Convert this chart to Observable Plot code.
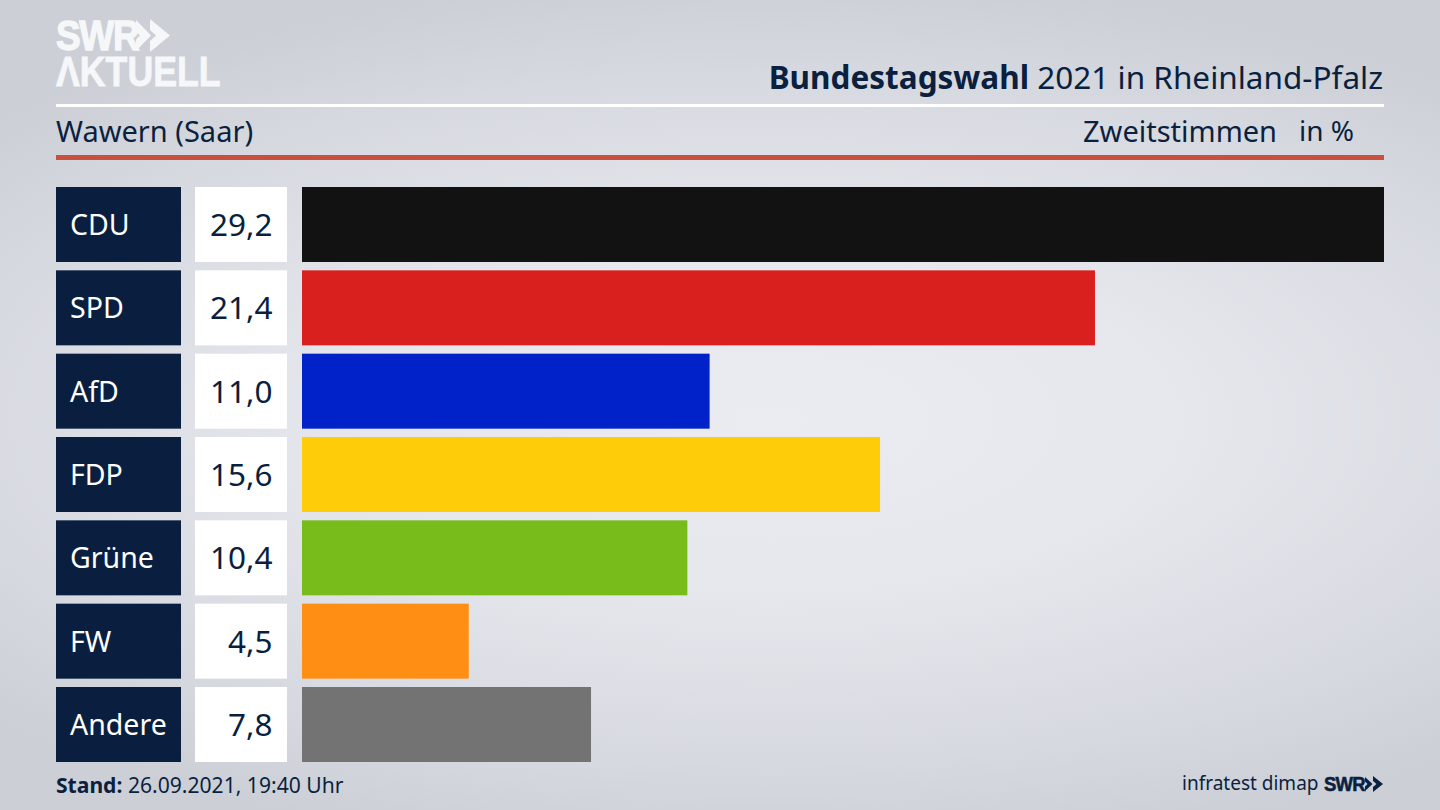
<!DOCTYPE html>
<html lang="de"><head><meta charset="utf-8">
<script src="https://cdn.jsdelivr.net/npm/d3@7"></script>
<script src="https://cdn.jsdelivr.net/npm/@observablehq/plot@0.6"></script>
<style>
html,body{margin:0;padding:0;width:1440px;height:810px;overflow:hidden}
body{position:relative;font-family:"Noto Sans",sans-serif;color:#0b1f3f;
background:radial-gradient(ellipse 1050px 440px at 770px 420px,#ebecf1 0%,#e5e7ed 40%,#d6d9df 78%,#ccd0d6 100%),#ccd0d6;}
.t{position:absolute;white-space:nowrap;line-height:1}
.panel{position:absolute;top:187.200px}
.panel svg{display:block;background:transparent!important;overflow:visible}
.rule{position:absolute;left:56px;width:1328px}
.logo{font-family:'Liberation Sans',sans-serif;font-weight:700;transform-origin:left top;line-height:.8}
</style></head><body>
<div class="t logo" style="left:56px;top:19.200px;font-size:42px;color:#f6f7f9;-webkit-text-stroke:1.300px #f6f7f9;letter-spacing:-1.500px;transform:scaleX(.88)">SWR</div>
<svg style="position:absolute;left:135px;top:19px" width="36" height="33" viewBox="0 0 36 33"><path fill="#f6f7f9" d="M1 1L16 16.500L1 32V20.500L5 16.500L1 12.500ZM15 0L35 16.500L15 33V22L21 16.500L15 11Z"/></svg>
<div class="t logo" style="left:56px;top:55.200px;font-size:42px;color:#f6f7f9;-webkit-text-stroke:.8px #f6f7f9;transform:scaleX(.85)">ΛKTUELL</div>
<div class="t" id="title" style="right:57px;top:61px;font-size:31.500px"><b style="font-weight:700">Bundestagswahl</b> 2021 in Rheinland-Pfalz</div>
<div class="rule" style="top:104px;height:3px;background:#fff"></div>
<div class="t" style="left:56px;top:116px;font-size:29px">Wawern (Saar)</div>
<div class="t" style="left:1083px;top:116px;font-size:29px">Zweitstimmen</div>
<div class="t" style="left:1299px;top:116px;font-size:28px">in %</div>
<div class="rule" style="top:155px;height:5px;background:#c9503e"></div>
<div class="panel" id="labels" style="left:56px"></div>
<div class="panel" id="values" style="left:195px"></div>
<div class="panel" id="bars" style="left:301.500px"></div>
<div class="t" style="left:56px;top:774px;font-size:21.100px"><b>Stand:</b> 26.09.2021, 19:40 Uhr</div>
<div class="t" style="left:1182px;top:774px;font-size:19px">infratest dimap</div>
<div class="t logo" style="left:1324px;top:776px;font-size:21px;-webkit-text-stroke:.6px #0b1f3f;letter-spacing:-.8px;transform:scaleX(.88)">SWR</div>
<svg style="position:absolute;left:1365px;top:776px" width="19" height="16" viewBox="0 0 19 16"><path fill="#0b1f3f" d="M0 1L7.500 8L0 15V10.500L2.500 8L0 5.500ZM8 0L18 8L8 16V11L11.500 8L8 5Z"/></svg>
<script>
const parties=["CDU","SPD","AfD","FDP","Grüne","FW","Andere"];
const shares=[29.2,21.4,11.0,15.6,10.4,4.5,7.8];
const shareLabels=["29,2","21,4","11,0","15,6","10,4","4,5","7,8"];
const colours=["#121212","#d9201e","#0022c8","#ffcc0a","#78bc1b","#ff8f14","#737374"];
const rows=parties.map((party,i)=>({party,share:shares[i],label:shareLabels[i],colour:colours[i]}));
const navy="#0a1f40", H=575;
const base=(width,domain,marks)=>Plot.plot({width,height:H,margin:0,
  style:{background:"transparent",fontFamily:"'Noto Sans',sans-serif"},
  x:{domain,axis:null},
  y:{domain:parties,axis:null,paddingInner:0.1,paddingOuter:0,align:0,round:false},
  marks});
document.getElementById("labels").append(base(125,[0,1],[
  Plot.barX(rows,{x:()=>1,y:"party",fill:navy}),
  Plot.text(rows,{y:"party",text:"party",frameAnchor:"left",dx:13.5,dy:1,fill:"#fff",fontSize:28.5})
]));
document.getElementById("values").append(base(92,[0,1],[
  Plot.barX(rows,{x:()=>1,y:"party",fill:"#fff"}),
  Plot.text(rows,{y:"party",text:"label",frameAnchor:"right",dx:-15,dy:1,fill:navy,fontSize:31.5})
]));
document.getElementById("bars").append(base(1082,[0,29.2],[
  Plot.barX(rows,{x:"share",y:"party",fill:"colour"})
]));
</script>
</body></html>
